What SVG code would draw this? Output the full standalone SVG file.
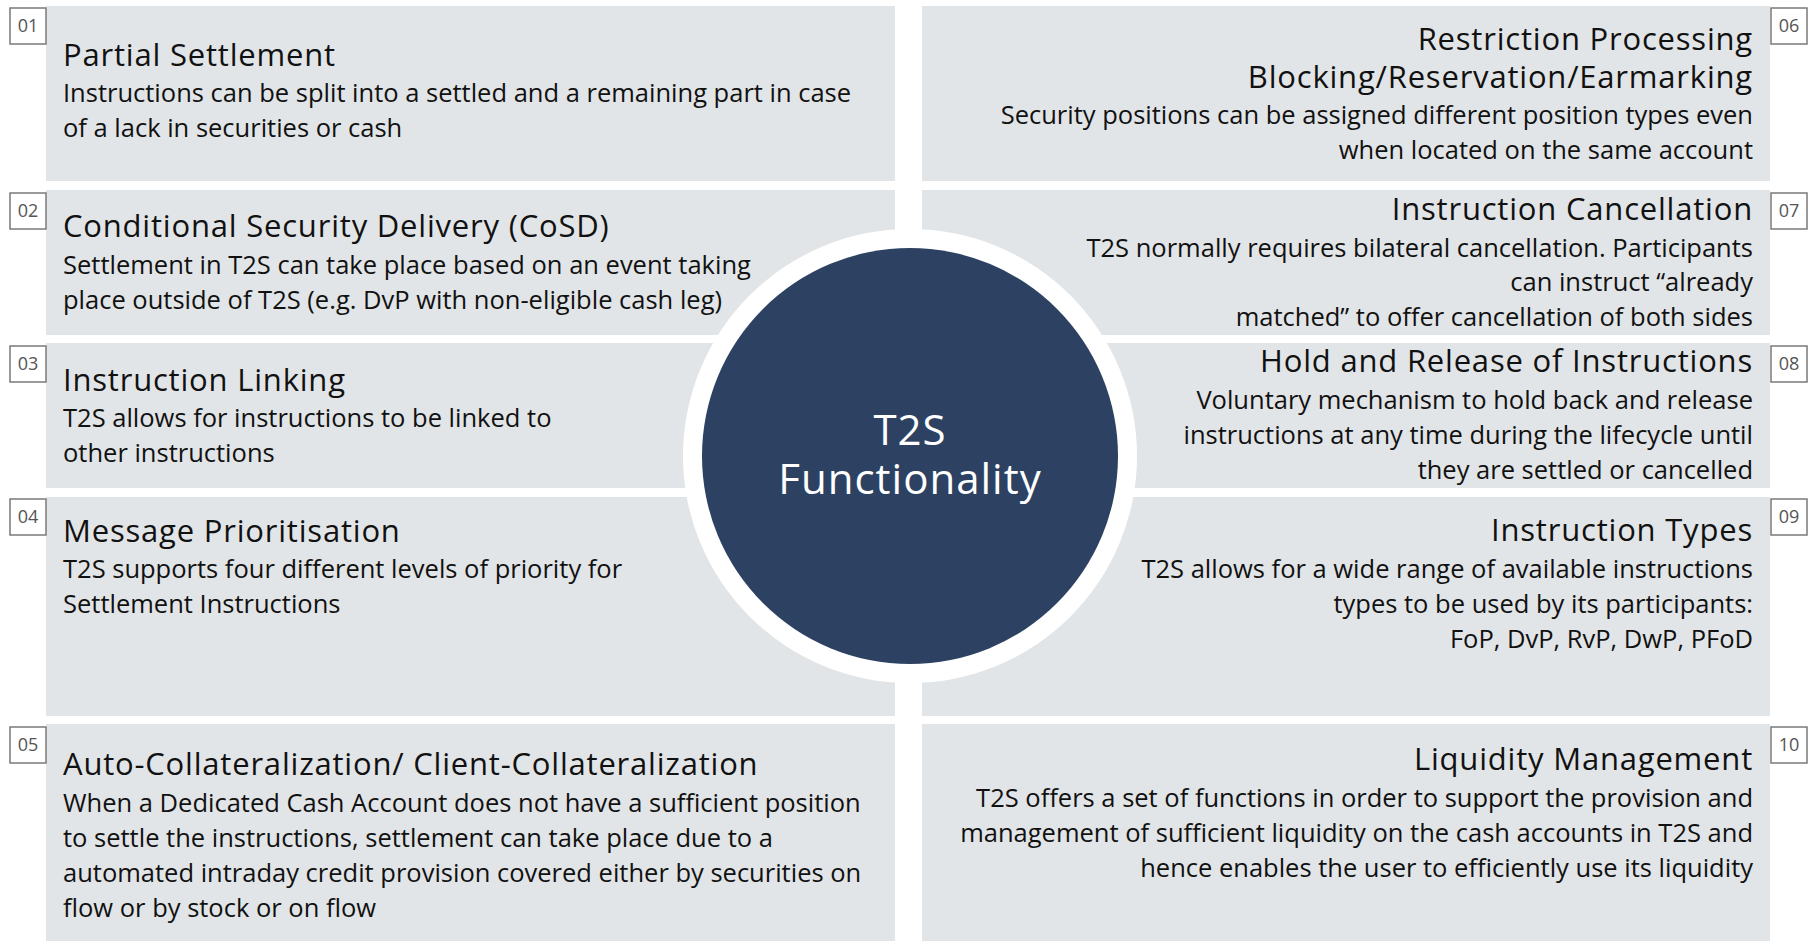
<svg xmlns="http://www.w3.org/2000/svg" width="1813" height="941" viewBox="0 0 1813 941">
<style>
.panel{fill:#e2e5e7}
.badge rect{fill:#ffffff;stroke:#7a7a7a;stroke-width:1.5}
.badge text{font-family:"Open Sans","Liberation Sans",sans-serif;font-size:18px;fill:#555555;text-anchor:middle}
.t{font-family:"Open Sans","Liberation Sans",sans-serif;font-size:31px;font-weight:500;fill:#111111;letter-spacing:0.8px}
.b{font-family:"Open Sans","Liberation Sans",sans-serif;font-size:25.5px;fill:#111111}
.r{text-anchor:end}
.c{font-family:"Open Sans","Liberation Sans",sans-serif;font-size:42px;fill:#ffffff;text-anchor:middle;letter-spacing:1px}
</style>
<rect width="1813" height="941" fill="#ffffff"/>
<g id="panels">
<rect class="panel" x="46" y="6" width="849" height="175"/>
<rect class="panel" x="46" y="190" width="849" height="145"/>
<rect class="panel" x="46" y="343" width="849" height="145"/>
<rect class="panel" x="46" y="497" width="849" height="219"/>
<rect class="panel" x="46" y="724" width="849" height="217"/>
<rect class="panel" x="922" y="6" width="848" height="175"/>
<rect class="panel" x="922" y="190" width="848" height="145"/>
<rect class="panel" x="922" y="343" width="848" height="145"/>
<rect class="panel" x="922" y="497" width="848" height="219"/>
<rect class="panel" x="922" y="724" width="848" height="217"/>
</g>
<g id="center">
<circle cx="910" cy="456" r="227" fill="#ffffff"/>
<circle cx="910" cy="456" r="208" fill="#2d4262"/>
<text class="c"><tspan x="910" y="445">T2S</tspan><tspan x="910" y="494">Functionality</tspan></text>
</g>
<g id="connectors"></g>
<g id="n01">
<g class="badge"><rect x="10" y="8" width="36" height="36"/><text x="28" y="32">01</text></g>
<text class="t" x="63" y="66">Partial Settlement</text>
<text class="b" x="63" y="102">Instructions can be split into a settled and a remaining part in case</text>
<text class="b" x="63" y="137">of a lack in securities or cash</text>
</g>
<g id="n02">
<g class="badge"><rect x="10" y="193" width="36" height="36"/><text x="28" y="217">02</text></g>
<text class="t" x="63" y="237">Conditional Security Delivery (CoSD)</text>
<text class="b" x="63" y="274">Settlement in T2S can take place based on an event taking</text>
<text class="b" x="63" y="309">place outside of T2S (e.g. DvP with non-eligible cash leg)</text>
</g>
<g id="n03">
<g class="badge"><rect x="10" y="346" width="36" height="36"/><text x="28" y="370">03</text></g>
<text class="t" x="63" y="391">Instruction Linking</text>
<text class="b" x="63" y="427">T2S allows for instructions to be linked to</text>
<text class="b" x="63" y="462">other instructions</text>
</g>
<g id="n04">
<g class="badge"><rect x="10" y="499" width="36" height="36"/><text x="28" y="523">04</text></g>
<text class="t" x="63" y="542">Message Prioritisation</text>
<text class="b" x="63" y="578">T2S supports four different levels of priority for</text>
<text class="b" x="63" y="613">Settlement Instructions</text>
</g>
<g id="n05">
<g class="badge"><rect x="10" y="727" width="36" height="36"/><text x="28" y="751">05</text></g>
<text class="t" x="63" y="775">Auto-Collateralization/ Client-Collateralization</text>
<text class="b" x="63" y="812">When a Dedicated Cash Account does not have a sufficient position</text>
<text class="b" x="63" y="847">to settle the instructions, settlement can take place due to a</text>
<text class="b" x="63" y="882">automated intraday credit provision covered either by securities on</text>
<text class="b" x="63" y="917">flow or by stock or on flow</text>
</g>
<g id="n06">
<g class="badge"><rect x="1771" y="8" width="36" height="36"/><text x="1789" y="32">06</text></g>
<text class="t r" x="1753" y="50">Restriction Processing</text>
<text class="t r" x="1753" y="88">Blocking/Reservation/Earmarking</text>
<text class="b r" x="1753" y="124">Security positions can be assigned different position types even</text>
<text class="b r" x="1753" y="159">when located on the same account</text>
</g>
<g id="n07">
<g class="badge"><rect x="1771" y="193" width="36" height="36"/><text x="1789" y="217">07</text></g>
<text class="t r" x="1753" y="220">Instruction Cancellation</text>
<text class="b r" x="1753" y="257">T2S normally requires bilateral cancellation. Participants</text>
<text class="b r" x="1753" y="291">can instruct “already</text>
<text class="b r" x="1753" y="326">matched” to offer cancellation of both sides</text>
</g>
<g id="n08">
<g class="badge"><rect x="1771" y="346" width="36" height="36"/><text x="1789" y="370">08</text></g>
<text class="t r" x="1753" y="372">Hold and Release of Instructions</text>
<text class="b r" x="1753" y="409">Voluntary mechanism to hold back and release</text>
<text class="b r" x="1753" y="444">instructions at any time during the lifecycle until</text>
<text class="b r" x="1753" y="479">they are settled or cancelled</text>
</g>
<g id="n09">
<g class="badge"><rect x="1771" y="499" width="36" height="36"/><text x="1789" y="523">09</text></g>
<text class="t r" x="1753" y="541">Instruction Types</text>
<text class="b r" x="1753" y="578">T2S allows for a wide range of available instructions</text>
<text class="b r" x="1753" y="613">types to be used by its participants:</text>
<text class="b r" x="1753" y="648">FoP, DvP, RvP, DwP, PFoD</text>
</g>
<g id="n10">
<g class="badge"><rect x="1771" y="727" width="36" height="36"/><text x="1789" y="751">10</text></g>
<text class="t r" x="1753" y="770">Liquidity Management</text>
<text class="b r" x="1753" y="807">T2S offers a set of functions in order to support the provision and</text>
<text class="b r" x="1753" y="842">management of sufficient liquidity on the cash accounts in T2S and</text>
<text class="b r" x="1753" y="877">hence enables the user to efficiently use its liquidity</text>
</g>
</svg>
